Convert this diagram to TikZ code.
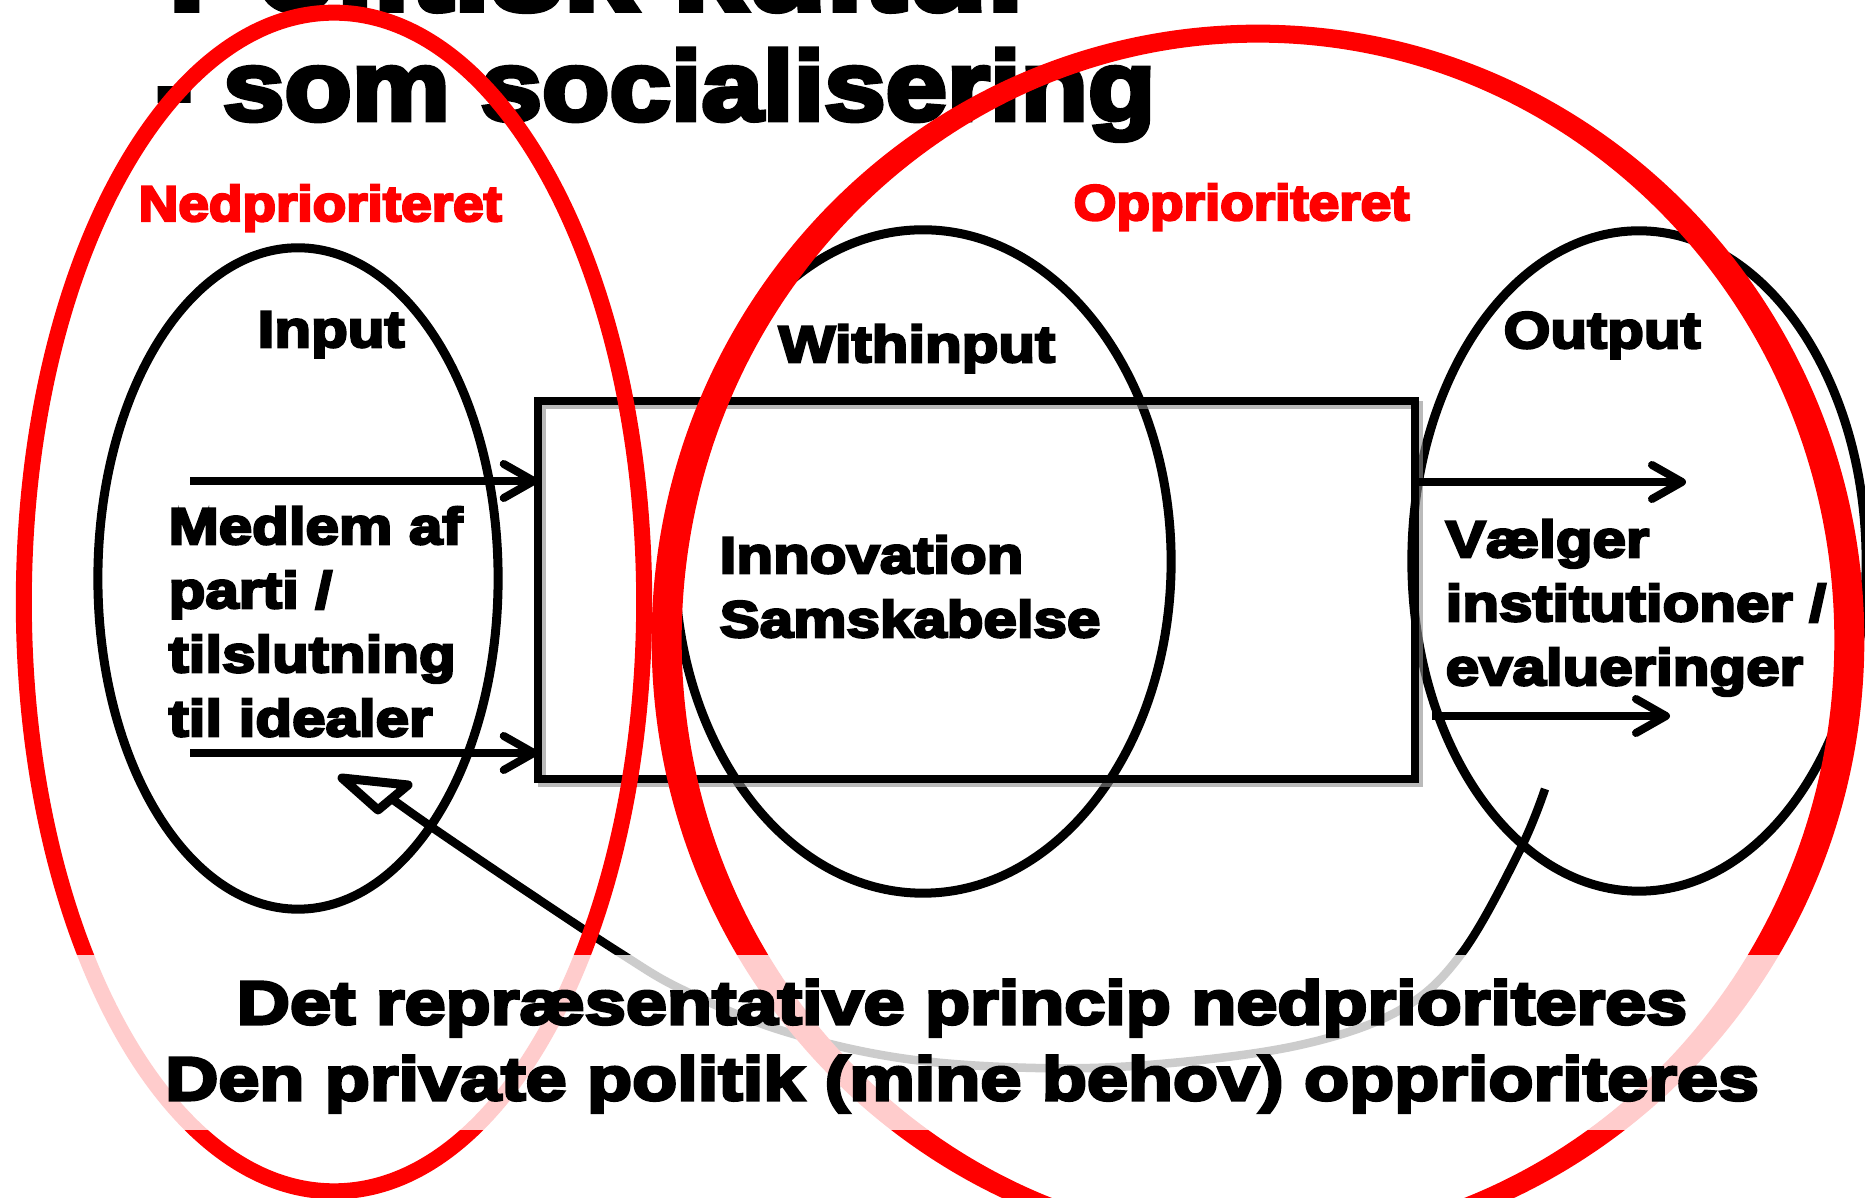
\documentclass[tikz,border=0pt]{standalone}
\usepackage{fontspec}
\usetikzlibrary{shapes.geometric,arrows.meta}
\newfontfamily\heavy{Liberation Sans Bold}[FakeBold=5,FakeStretch=1.17]
\newfontfamily\heavyb{Liberation Sans Bold}[FakeBold=5,FakeStretch=1.205]
\newfontfamily\heavyt{Liberation Sans Bold}[FakeBold=5,FakeStretch=1.10]
\newfontfamily\heavyh{Liberation Sans Bold}[FakeBold=5,FakeStretch=1.125]
\definecolor{pptred}{RGB}{255,0,0}
\begin{document}
\begin{tikzpicture}[x=0.01cm,y=-0.01cm,
  blk/.style={draw=black,line width=0.09cm,ellipse,inner sep=0pt,outer sep=0pt},
  arr/.style={line width=0.08cm,-{Straight Barb[length=0.3cm,width=0.34cm,line cap=round,line join=round]}},
  lbl/.style={anchor=base west,inner sep=0pt,font=\heavy\fontsize{14.6pt}{18.2pt}\selectfont},
  redlbl/.style={anchor=base west,inner sep=0pt,text=pptred,font=\heavyt\fontsize{14.2pt}{17pt}\selectfont},
  bottomlbl/.style={anchor=base,inner sep=0pt,font=\heavyb\fontsize{17.4pt}{21.6pt}\selectfont},
  titlelbl/.style={anchor=base west,inner sep=0pt,font=\heavyh\fontsize{27.9pt}{30.7pt}\selectfont}]
\useasboundingbox (0,0) rectangle (1865,1198);
\clip (0,0) rectangle (1865,1198);
\fill[white] (0,0) rectangle (1865,1198);

% title
\node[titlelbl,font=\heavyt\fontsize{34pt}{36pt}\selectfont] (t1) at (168,10) {Politisk kultur};
\node[titlelbl] (t2) at (155,120) {- som socialisering};

% black ellipses
\node[blk,minimum width=4.00cm,minimum height=6.61cm] (inp) at (298,578.5) {};
\node[blk,minimum width=4.96cm,minimum height=6.63cm] (within) at (923,561.5) {};
\node[blk,minimum width=4.54cm,minimum height=6.60cm] (outp) at (1639,561) {};

% box with shadow
\draw[black!45,line width=0.08cm,opacity=0.6] (542,405) rectangle (1419,783);
\node[draw,line width=0.08cm,minimum width=8.77cm,minimum height=3.78cm,inner sep=0pt,outer sep=0pt] (box) at (976.5,590) {};

% arrows
\coordinate (i1) at (190,481);
\coordinate (i2) at (190,753);
\draw[arr] (i1) -- (i1 -| box.west);
\draw[arr] (i2) -- (i2 -| box.west);
\coordinate (o1) at (1686,482);
\draw[arr] (o1 -| box.east) -- (o1);
\coordinate (o2s) at (1432,716);
\coordinate (o2) at (1670,716);
\draw[arr] (o2s) -- (o2);

% texts
\node[lbl] (inlbl) at (257,347) {Input};
\node[lbl] (withlbl) at (778,362) {Withinput};
\node[lbl] (outlbl) at (1503,348) {Output};
\node[lbl] (intext) at (168,544) {\vtop{\baselineskip=18.21pt\hbox{Medlem af}\hbox{parti /}\hbox{tilslutning}\hbox{til idealer}}};
\node[lbl] (withtext) at (719,573) {\vtop{\baselineskip=18.21pt\hbox{Innovation}\hbox{Samskabelse}}};
\node[lbl] (outtext) at (1445,557) {\vtop{\baselineskip=18.21pt\hbox{Vælger}\hbox{institutioner /}\hbox{evalueringer}}};

% feedback curve
\coordinate (fbs) at (1545,789);
\coordinate (fbe) at (392,799);
\coordinate (fbtip) at (342,778);
\draw[line width=0.085cm] plot[smooth,tension=0.6] coordinates {(fbs) (1520,850) (1462,953) (1400,1010) (1300,1045) (1160,1064) (1035,1068) (900,1058) (780,1030) (683,990) (620,953) (520,887) (433,828) (fbe)};
\draw[line width=0.09cm,line join=round] (fbtip) -- (408,785) -- (378,810) -- cycle;

% red groups
\node[redlbl] (ned) at (138,221) {Nedprioriteret};
\node[redlbl] (opp) at (1073,220) {Opprioriteret};
\draw[pptred,line width=0.16cm] (334,602) ellipse [x radius=3.10cm,y radius=5.89cm];
\fill[pptred,even odd rule] (1258,640) ellipse [x radius=6.06cm,y radius=6.15cm] (1258,640) ellipse [x radius=5.76cm,y radius=5.97cm];

% band and conclusion
\fill[white,opacity=0.8] (0,955) rectangle (1865,1130);
\node[bottomlbl] (b1) at (962,1024) {Det repræsentative princip nedprioriteres};
\node[bottomlbl] (b2) at (962,1100) {Den private politik (mine behov) opprioriteres};
\end{tikzpicture}
\end{document}
